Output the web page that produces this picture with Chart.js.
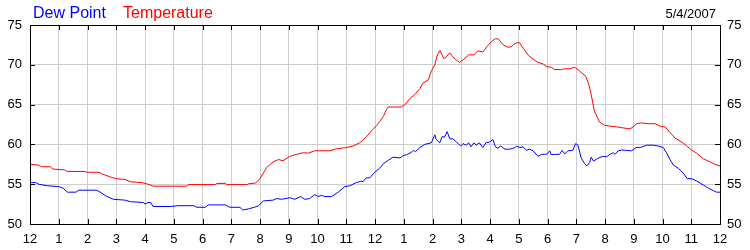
<!DOCTYPE html>
<html>
<head>
<meta charset="utf-8">
<script src="https://cdn.jsdelivr.net/npm/chart.js@4.4.0/dist/chart.umd.min.js"></script>
<style>
  body { margin: 0; background: #fff; }
  canvas { display: block; }
</style>
</head>
<body>
<canvas id="weatherChart" width="750" height="250"></canvas>
<script>
// Hour labels along the bottom (midnight to midnight)
const hourLabels = ['12', '1', '2', '3', '4', '5', '6', '7', '8', '9', '10', '11',
    '12', '1', '2', '3', '4', '5', '6', '7', '8', '9', '10', '11', '12'];
const yTicks = [50, 55, 60, 65, 70, 75];
const dateText = '5/4/2007';

// Temperature readings (hour of day, degrees F)
const tempHours = [0, 0.3, 0.4, 0.7, 0.8, 1.2, 1.3, 1.9, 2.0, 2.4, 2.5, 2.8, 3.0, 3.3, 3.5, 3.9, 4.1, 4.3,
    5.45, 5.5, 6.45, 6.5, 6.8, 6.85, 7.55, 7.6, 7.85, 8.0, 8.23, 8.46, 8.64, 8.8, 9.04, 9.27, 9.5, 9.68,
    9.9, 10.43, 10.66, 11.0, 11.24, 11.47, 11.7, 11.93, 12.06, 12.17, 12.29, 12.4, 12.46, 12.92, 13.04,
    13.21, 13.38, 13.56, 13.67, 13.85, 13.96, 14.08, 14.17, 14.26, 14.39, 14.48, 14.6, 14.71, 14.83,
    14.94, 15.09, 15.26, 15.44, 15.58, 15.75, 15.92, 16.05, 16.2, 16.3, 16.46, 16.63, 16.75, 16.87,
    17.02, 17.15, 17.33, 17.5, 17.67, 17.85, 17.98, 18.13, 18.25, 18.48, 18.6, 18.77, 18.94, 19.11,
    19.34, 19.44, 19.52, 19.63, 19.81, 19.98, 20.17, 20.41, 20.58, 20.87, 20.98, 21.1, 21.27, 21.5,
    21.74, 21.91, 22.09, 22.26, 22.43, 22.67, 22.84, 23.01, 23.19, 23.42, 23.65, 23.82, 24.0];
const tempValues = [57.5, 57.4, 57.2, 57.2, 56.9, 56.8, 56.6, 56.6, 56.5, 56.5, 56.3, 55.9, 55.7, 55.6, 55.3, 55.2, 55.0, 54.75,
    54.75, 54.95, 54.95, 55.1, 55.1, 54.95, 54.95, 55.05, 55.15, 55.7, 57.1, 57.8, 58.1, 57.95, 58.5, 58.75, 58.95, 58.9,
    59.2, 59.2, 59.45, 59.6, 59.8, 60.2, 60.95, 61.9, 62.4, 62.9, 63.5, 64.4, 64.7, 64.7, 65.0,
    65.75, 66.25, 67.0, 67.7, 68.1, 69.2, 70.0, 71.25, 71.8, 70.8, 71.0, 71.5, 71.0, 70.6,
    70.3, 70.7, 71.25, 71.25, 71.75, 71.6, 72.4, 72.9, 73.3, 73.2, 72.5, 72.2, 72.3, 72.7,
    72.8, 72.1, 71.2, 70.7, 70.3, 70.1, 69.75, 69.7, 69.4, 69.4, 69.5, 69.5, 69.7, 69.25,
    68.5, 67.5, 66.25, 64.2, 62.8, 62.4, 62.3, 62.2, 62.1, 61.95, 62.2, 62.6, 62.7, 62.6,
    62.6, 62.3, 62.2, 61.5, 60.8, 60.3, 59.8, 59.3, 58.9, 58.2, 57.8, 57.5, 57.3];

// Dew point readings (hour of day, degrees F)
const dewHours = [0, 0.2, 0.3, 0.6, 1.0, 1.15, 1.3, 1.6, 1.7, 2.3, 2.4, 2.6, 2.9, 3.3, 3.5, 3.95, 4.0, 4.1, 4.2, 4.28,
    4.9, 5.15, 5.7, 5.8, 6.1, 6.2, 6.8, 6.95, 7.3, 7.4, 7.6, 7.8, 7.95, 8.12, 8.46, 8.58, 8.75, 9.04, 9.21,
    9.41, 9.56, 9.73, 9.9, 10.02, 10.14, 10.25, 10.49, 10.72, 10.95, 11.12, 11.35, 11.53, 11.58, 11.7, 11.82,
    11.99, 12.16, 12.3, 12.46, 12.63, 12.87, 12.98, 13.1, 13.15, 13.27, 13.33, 13.41, 13.56, 13.73, 13.96,
    14.08, 14.13, 14.25, 14.34, 14.42, 14.51, 14.6, 14.71, 14.83, 14.98, 15.06, 15.17, 15.26, 15.34, 15.44,
    15.52, 15.63, 15.75, 15.86, 15.98, 16.1, 16.18, 16.25, 16.37, 16.52, 16.69, 16.87, 16.92, 17.04, 17.15,
    17.27, 17.38, 17.5, 17.67, 17.79, 17.9, 17.98, 18.08, 18.13, 18.25, 18.42, 18.51, 18.6, 18.71, 18.88,
    18.98, 19.06, 19.17, 19.29, 19.37, 19.46, 19.52, 19.6, 19.75, 19.92, 20.06, 20.17, 20.29, 20.35, 20.46,
    20.58, 20.75, 20.93, 21.08, 21.27, 21.45, 21.68, 21.85, 22.03, 22.14, 22.26, 22.38, 22.55, 22.72, 22.86,
    23.01, 23.19, 23.42, 23.59, 23.77, 23.88, 24.0];
const dewValues = [55.2, 55.2, 55.0, 54.8, 54.7, 54.5, 54.0, 54.0, 54.25, 54.25, 54.1, 53.6, 53.1, 53.0, 52.8, 52.7, 52.5, 52.7, 52.7, 52.2,
    52.2, 52.3, 52.3, 52.1, 52.1, 52.4, 52.4, 52.1, 52.1, 51.75, 51.9, 52.1, 52.3, 52.9, 53.0, 53.2, 53.1, 53.3, 53.1,
    53.45, 53.1, 53.2, 53.7, 53.45, 53.6, 53.45, 53.45, 54.0, 54.7, 54.8, 55.2, 55.4, 55.3, 55.8, 55.8,
    56.5, 57.0, 57.6, 58.0, 58.4, 58.3, 58.6, 58.7, 58.8, 59.0, 59.25, 59.1, 59.6, 60.0, 60.2,
    61.2, 60.6, 60.2, 61.0, 60.9, 61.6, 60.7, 60.7, 60.3, 59.8, 60.1, 59.9, 60.2, 59.7, 60.2,
    59.9, 60.2, 59.6, 60.2, 60.3, 60.6, 59.8, 59.5, 59.8, 59.4, 59.4, 59.6, 59.8, 59.6, 59.7,
    59.25, 59.4, 59.2, 58.5, 58.75, 58.75, 58.8, 59.2, 58.7, 58.75, 58.75, 59.25, 58.8, 59.2, 59.25,
    60.1, 59.9, 58.3, 57.6, 57.3, 57.7, 58.4, 57.9, 58.25, 58.5, 58.45, 58.75, 58.95, 58.75, 59.2,
    59.3, 59.25, 59.2, 59.6, 59.65, 59.9, 59.9, 59.8, 59.6, 58.95, 58.1, 57.4, 57.0, 56.4, 55.7,
    55.7, 55.4, 54.9, 54.5, 54.2, 54.0, 54.0];

const FONT = 'Arial, "Liberation Sans", sans-serif';
const GRID = '#cccccc';

// box around the plot, short inward ticks, header text
const framePlugin = {
    id: 'frame',
    afterDatasetsDraw(chart) {
        const ctx = chart.ctx;
        const area = chart.chartArea;
        const xs = chart.scales.x;
        const ys = chart.scales.y;
        ctx.save();
        ctx.strokeStyle = '#000';
        ctx.lineWidth = 1;
        ctx.beginPath();
        for (let h = 0; h < hourLabels.length; h++) {
            const px = Math.round(xs.getPixelForValue(h)) + 0.5;
            ctx.moveTo(px, area.bottom);
            ctx.lineTo(px, area.bottom - 5);
            ctx.moveTo(px, area.top);
            ctx.lineTo(px, area.top + 5);
        }
        yTicks.forEach(v => {
            const py = Math.round(ys.getPixelForValue(v)) + 0.5;
            ctx.moveTo(area.left, py);
            ctx.lineTo(area.left + 5, py);
            ctx.moveTo(area.right, py);
            ctx.lineTo(area.right - 5, py);
        });
        ctx.stroke();
        ctx.strokeRect(Math.round(area.left) + 0.5, Math.round(area.top) + 0.5,
            Math.round(area.right - area.left), Math.round(area.bottom - area.top));

        ctx.font = '16px ' + FONT;
        ctx.textBaseline = 'alphabetic';
        ctx.textAlign = 'left';
        ctx.fillStyle = '#0000ff';
        ctx.fillText('Dew Point', 33, 18);
        ctx.fillStyle = '#ff0000';
        ctx.fillText('Temperature', 123, 18);
        ctx.font = '13px ' + FONT;
        ctx.fillStyle = '#000';
        ctx.textAlign = 'right';
        ctx.fillText(dateText, 716, 18);
        ctx.restore();
    }
};

const yAxis = (side) => ({
    position: side,
    min: 50,
    max: 75,
    afterFit(scale) { scale.width = 30; },
    afterBuildTicks(scale) { scale.ticks = yTicks.map(v => ({ value: v })); },
    ticks: { color: '#000', font: { family: FONT, size: 13 }, padding: side === 'left' ? 8 : 7 },
    grid: { color: GRID, drawTicks: false, display: side === 'left' },
    border: { color: '#000' }
});

const weatherChart = new Chart(document.getElementById('weatherChart'), {
    type: 'line',
    data: {
        datasets: [{
            label: 'Dew Point',
            data: dewHours.map((h, i) => ({ x: h, y: dewValues[i] })),
            borderColor: '#0000ff',
            borderWidth: 1,
            pointRadius: 0,
            tension: 0
        }, {
            label: 'Temperature',
            data: tempHours.map((h, i) => ({ x: h, y: tempValues[i] })),
            borderColor: '#ff0000',
            borderWidth: 1,
            pointRadius: 0,
            tension: 0
        }]
    },
    options: {
        responsive: false,
        animation: false,
        layout: { padding: { top: 25, left: 0, right: 0, bottom: 0 } },
        plugins: { legend: { display: false }, tooltip: { enabled: false } },
        scales: {
            x: {
                type: 'linear',
                min: 0,
                max: 24,
                afterFit(scale) { scale.height = 26; },
                afterBuildTicks(scale) { scale.ticks = hourLabels.map((l, i) => ({ value: i })); },
                ticks: {
                    color: '#000',
                    font: { family: FONT, size: 13 },
                    padding: 8,
                    maxRotation: 0,
                    autoSkip: false,
                    callback: (v) => hourLabels[v]
                },
                grid: { color: GRID, drawTicks: false },
                border: { color: '#000' }
            },
            y: yAxis('left'),
            y2: yAxis('right')
        }
    },
    plugins: [framePlugin]
});
</script>
</body>
</html>
